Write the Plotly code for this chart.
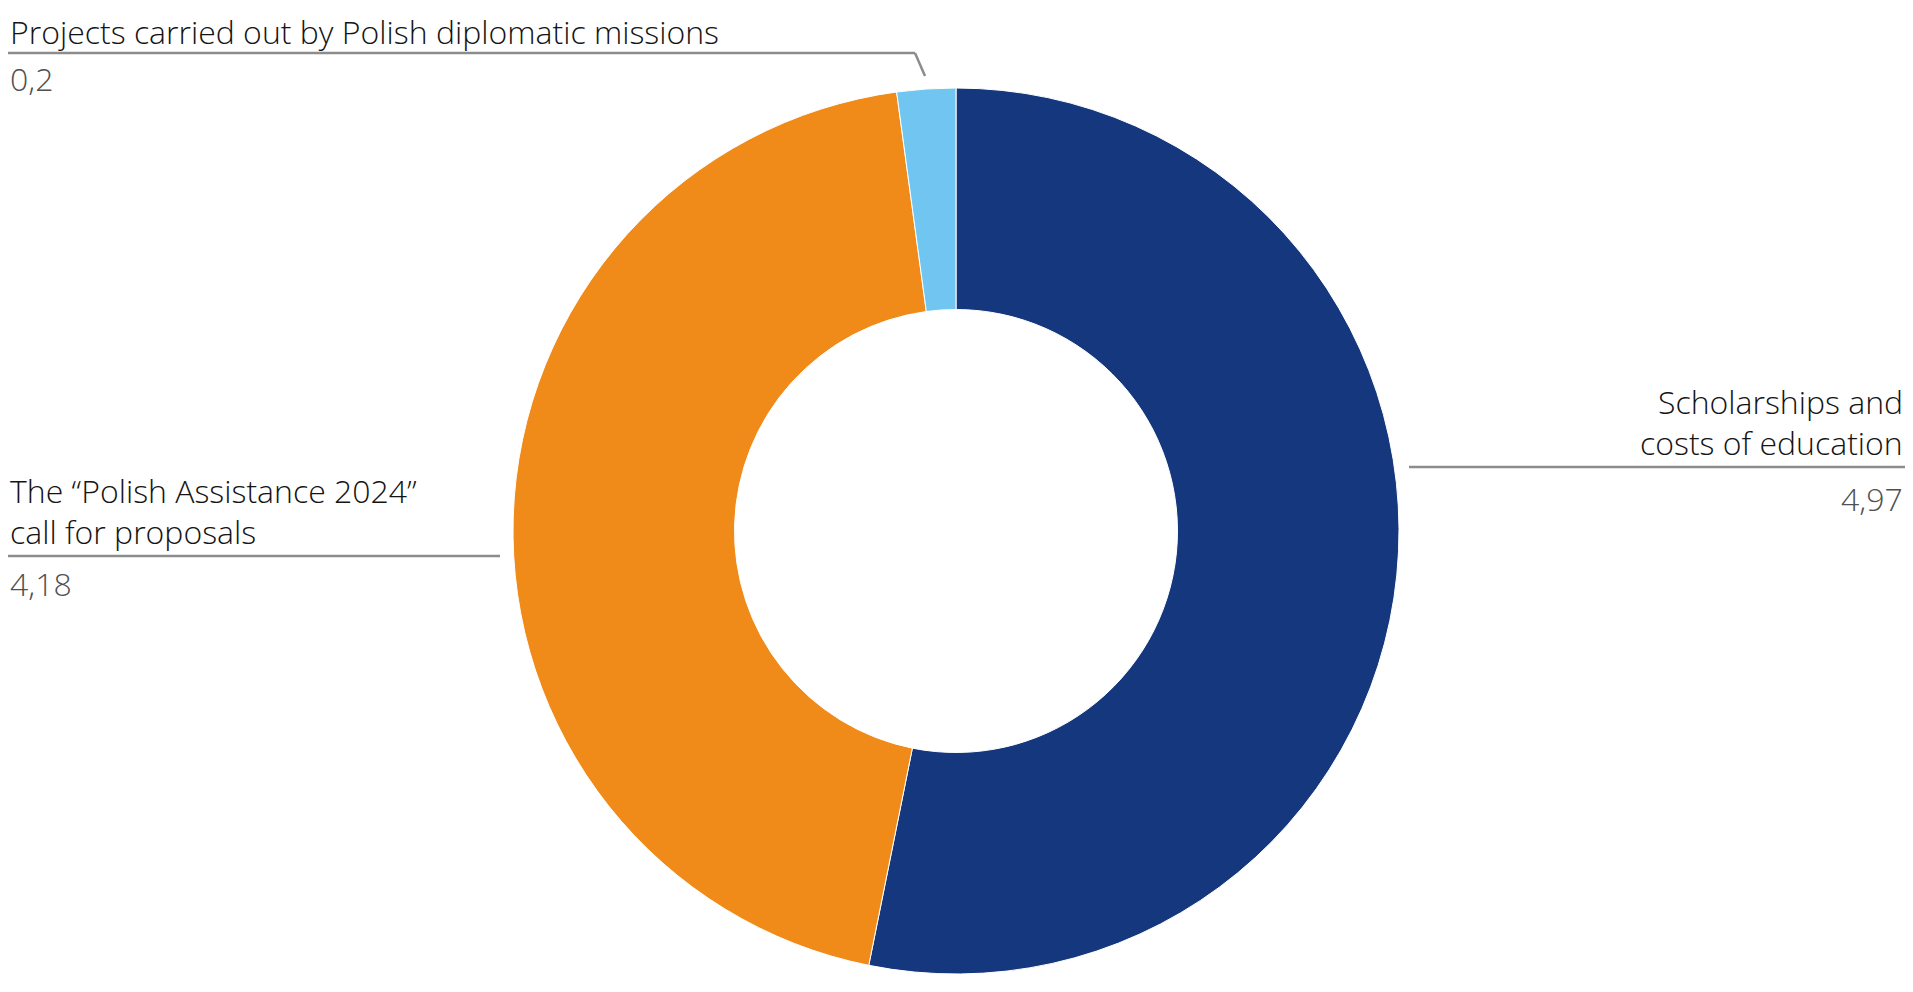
import plotly.graph_objects as go

# data
labels = ["Scholarships and costs of education",
          "The \u201cPolish Assistance 2024\u201d call for proposals",
          "Projects carried out by Polish diplomatic missions"]
values = [4.97, 4.18, 0.2]
colors = ["#15377e", "#f08a18", "#70c6f1"]

# how each label is broken into lines on the chart
label_lines = [["Scholarships and", "costs of education"],
               ["The \u201cPolish Assistance 2024\u201d", "call for proposals"],
               ["Projects carried out by Polish diplomatic missions"]]

W, H = 1913, 992
PAD = 8  # body margin of the page
FONT = "Open Sans"


def px_x(x):  # screen pixel -> paper
    return (x - PAD) / (W - 2 * PAD)


def px_y(y):
    return 1 - (y - PAD) / (H - 2 * PAD)


def fmt(v):  # polish decimal comma
    s = ("%.2f" % v).rstrip("0").rstrip(".")
    return s.replace(".", ",")


fig = go.Figure(go.Pie(
    labels=labels, values=values, sort=False, direction="clockwise", rotation=0,
    hole=0.5, textinfo="none", hoverinfo="label+value",
    marker=dict(colors=colors, line=dict(color="white", width=1)),
    domain=dict(x=[px_x(513), px_x(1399)], y=[px_y(974), px_y(88)]),
    showlegend=False,
))

# label placement: (anchor, text x, first text line centre y, value y, leader line points)
places = [
    ("right", W - PAD, 401, 499, [(1409, 467), (1912, 467)]),
    ("left", PAD, 490, 583, [(0, 556), (500, 556)]),
    ("left", PAD, 31, 79, [(0, 53), (915, 53), (925, 76)]),
]

annotations = []
shapes = []
for lines, v, (anchor, x, ty, vy, pts) in zip(label_lines, values, places):
    for i, ln in enumerate(lines):
        annotations.append(dict(
            x=px_x(x), y=px_y(ty + i * 41.5), xref="paper", yref="paper",
            text=ln, showarrow=False, xanchor=anchor, yanchor="middle",
            font=dict(family=FONT, size=32, color="#141414", weight=300)))
    annotations.append(dict(
        x=px_x(x), y=px_y(vy), xref="paper", yref="paper",
        text=fmt(v), showarrow=False, xanchor=anchor, yanchor="middle",
        font=dict(family=FONT, size=32, color="#505050", weight=300)))
    for (x0, y0), (x1, y1) in zip(pts[:-1], pts[1:]):
        shapes.append(dict(type="line", xref="paper", yref="paper",
                           x0=px_x(x0), y0=px_y(y0), x1=px_x(x1), y1=px_y(y1),
                           line=dict(color="#8c8c8c", width=2.5)))

fig.update_layout(
    width=W - 2 * PAD, height=H - 2 * PAD, margin=dict(l=0, r=0, t=0, b=0),
    paper_bgcolor="white", plot_bgcolor="white",
    annotations=annotations, shapes=shapes,
)

fig.write_html("out.html")
